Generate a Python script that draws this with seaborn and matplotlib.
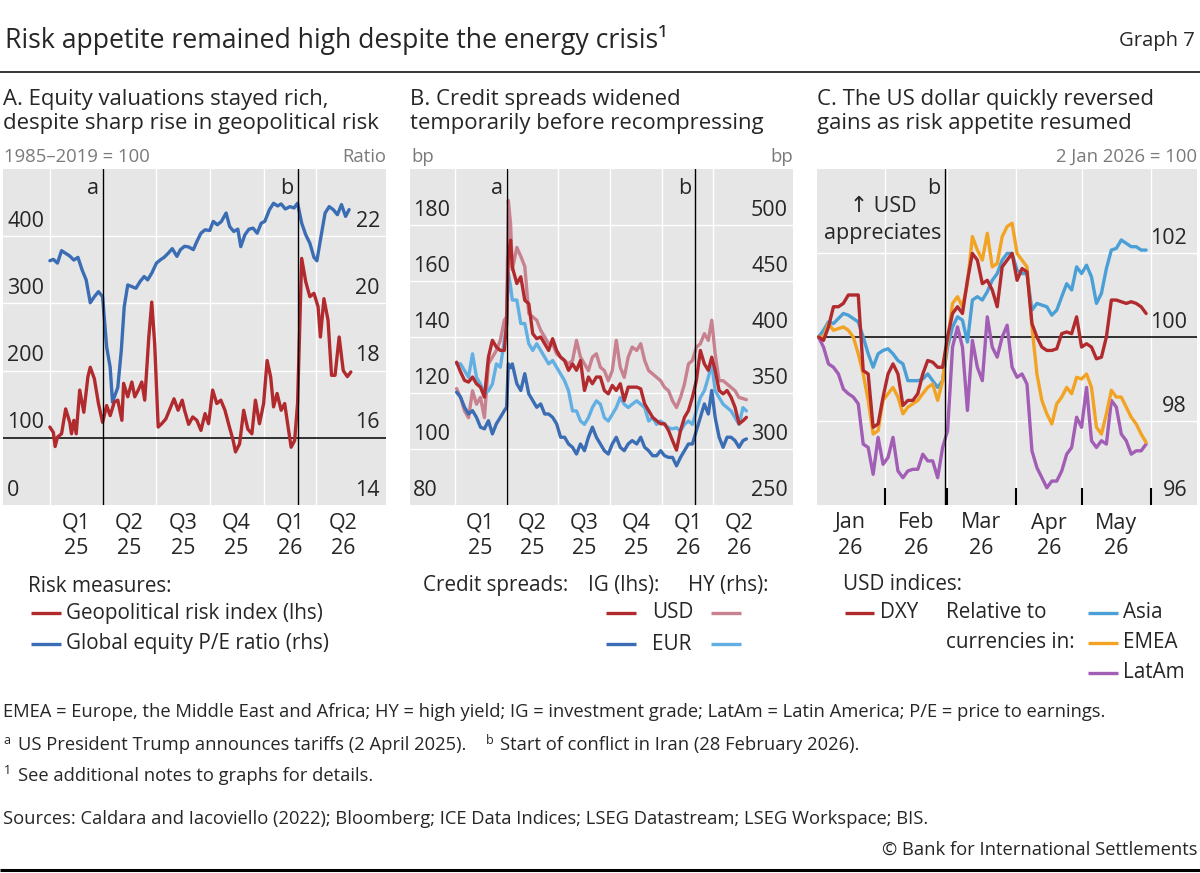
"""
Risk appetite remained high despite the energy crisis (BIS Graph 7) - three panel line chart.
"""
import numpy as np
import pandas as pd
import matplotlib
matplotlib.use("Agg")
import matplotlib.pyplot as plt
import matplotlib.transforms as mtransforms
from matplotlib.lines import Line2D
import seaborn as sns

# ---------------------------------------------------------------
# Panel A: days since 1 Jan 2025
gpr_day = [0, 6, 9, 13, 20, 27, 34, 37, 41, 45,
           51, 58, 65, 69, 76, 83, 90, 97, 103, 110,
           116, 123, 126, 133, 140, 145, 151, 157, 162, 169,
           174, 179, 185, 191, 198, 205, 212, 219, 226, 230,
           237, 244, 251, 258, 265, 271, 278, 285, 292, 299,
           306, 313, 317, 324, 331, 338, 345, 351, 358, 365,
           371, 377, 382, 388, 395, 401, 406, 412, 418, 423,
           430, 437, 444, 451, 458, 462, 468, 475, 481, 487,
           494, 501, 508, 514]
gpr = [116, 108, 87, 101, 106, 143, 123, 106, 126, 106,
       171, 138, 191, 205, 188, 151, 123, 148, 133, 153,
       156, 126, 181, 161, 183, 161, 171, 183, 156, 250,
       302, 240, 116, 121, 128, 143, 158, 141, 156, 141,
       120, 131, 126, 111, 136, 121, 171, 151, 156, 141,
       118, 96, 79, 91, 141, 113, 106, 156, 121, 151,
       215, 191, 146, 166, 141, 151, 121, 86, 96, 151,
       367, 332, 310, 315, 295, 250, 307, 275, 193, 193,
       250, 200, 191, 198]

pe_day = [0, 6, 13, 20, 27, 34, 41, 48, 55, 62,
          69, 76, 83, 90, 97, 103, 107, 116, 122, 127,
          133, 140, 147, 154, 161, 167, 174, 182, 189, 195,
          202, 209, 217, 223, 230, 237, 245, 251, 258, 265,
          273, 279, 286, 293, 301, 307, 314, 321, 326, 333,
          340, 347, 354, 361, 367, 375, 382, 389, 395, 402,
          410, 417, 423, 430, 437, 444, 451, 456, 463, 470,
          477, 484, 491, 498, 505, 511]
pe = [21.27, 21.31, 21.2, 21.57, 21.49, 21.41, 21.29, 21.37, 21.0, 20.7,
      20.02, 20.2, 20.35, 20.2, 18.7, 18.1, 17.06, 17.5, 18.6, 19.9,
      20.55, 20.5, 20.45, 20.65, 20.8, 20.7, 20.9, 21.2, 21.3, 21.37,
      21.49, 21.63, 21.4, 21.6, 21.7, 21.68, 21.6, 21.84, 22.09, 22.19,
      22.17, 22.44, 22.34, 22.44, 22.69, 22.29, 22.14, 22.21, 21.69, 22.04,
      22.21, 22.24, 22.09, 22.39, 22.44, 22.79, 22.98, 22.9, 22.96, 22.81,
      22.88, 22.84, 22.98, 22.39, 22.04, 21.79, 21.37, 21.27, 21.99, 22.69,
      22.88, 22.79, 22.64, 22.94, 22.59, 22.79]

# Panel B: days since 1 Jan 2025
cs_day = [3, 10, 17, 24, 31, 38, 45, 52, 59, 66, 73, 80, 87, 91, 94, 98, 101,
          109, 116, 123, 130, 137, 144, 151, 158, 165, 172, 179, 186, 193, 200,
          207, 214, 221, 228, 235, 242, 249, 256, 263, 270,
          277, 284, 291, 298, 305, 312, 320, 327, 334, 341, 348, 355, 362, 369,
          376, 383, 390, 397, 404, 411, 418, 425, 432, 439, 446, 452, 458, 465,
          472, 479, 486, 493, 500, 507, 513]
ig_usd = [131.0, 127.5, 124.5, 123.9, 125.7, 123.3, 122.1, 118.5, 132.8, 138.8,
          136.4, 135.2, 135.2, 144.8, 168.7, 174.6, 165.0, 159.1, 161.5, 153.1,
          151.9, 141.2, 139.4, 140.0, 137.6, 135.2, 139.4, 135.2, 132.8, 131.6,
          128.1, 130.4, 128.1, 131.6, 120.9, 125.7, 123.3, 125.7, 125.7, 120.9,
          119.7, 122.7, 120.9, 123.3, 117.3, 122.1, 122.1, 122.1, 121.5, 116.1,
          113.7, 111.3, 110.1, 109.0, 109.0, 106.6, 103.0, 99.6, 106.6, 111.3,
          113.7, 118.5, 124.5, 135.2, 130.4, 128.1, 132.8, 128.1, 120.9, 119.7,
          120.9, 118.5, 114.9, 109.0, 110.1, 111.3]
ig_eur = [120.3, 118.5, 114.9, 112.5, 113.7, 111.3, 107.8, 107.2, 110.1, 105.4,
          109.0, 111.3, 113.7, 114.9, 130.4, 129.0, 130.4, 123.3, 120.9, 126.9,
          119.7, 117.3, 114.9, 116.1, 112.5, 112.5, 111.3, 109.0, 104.2, 104.2,
          101.8, 100.6, 98.2, 101.8, 99.4, 104.2, 107.8, 104.2, 101.8, 99.4,
          98.2, 101.8, 104.2, 100.6, 99.4, 101.8, 103.0, 101.8, 104.2, 100.6,
          99.4, 97.6, 97.6, 99.4, 97.6, 97.0, 97.0, 94.0, 97.0, 99.4,
          101.8, 101.8, 106.6, 111.3, 116.1, 112.5, 120.9, 111.3, 104.2, 100.6,
          104.2, 104.2, 103.0, 100.6, 103.0, 103.6]
hy_usd = [354, 346, 334, 328, 352, 340, 346, 328, 376, 382,
          388, 397, 415, 418, 522, 501, 460, 480, 472, 463,
          421, 418, 415, 406, 400, 394, 394, 385, 382, 379,
          376, 379, 397, 382, 376, 370, 382, 385, 373, 370,
          361, 370, 397, 373, 364, 382, 391, 388, 394, 379,
          370, 367, 364, 361, 355, 352, 343, 337, 346, 358,
          376, 379, 391, 394, 403, 397, 415, 385, 361, 361,
          358, 355, 352, 346, 345, 344]
hy_eur = [376, 376, 370, 364, 385, 364, 358, 349, 352, 358,
          376, 373, 397, 410, 457, 445, 433, 433, 412, 412,
          394, 388, 394, 388, 382, 376, 379, 373, 367, 361,
          352, 334, 334, 325, 322, 328, 337, 343, 340, 328,
          325, 331, 337, 346, 340, 337, 340, 343, 340, 337,
          325, 328, 322, 325, 322, 319, 318, 319, 316, 322,
          325, 322, 334, 346, 352, 364, 376, 352, 346, 340,
          337, 334, 328, 322, 337, 334]

# Panel C: 2 Jan 2026 = 100, evenly spaced observations 2 Jan - 30 May 2026
dxy = [100.0, 99.92, 100.24, 100.72, 100.72, 100.80, 101.0, 101.0, 101.0, 99.2,
       99.12, 97.85, 97.93, 98.57, 99.12, 99.36, 99.12, 98.37, 98.49, 98.49,
       98.65, 99.12, 99.44, 99.40, 99.28, 99.28, 100.0, 100.56, 100.72, 100.56,
       101.35, 101.99, 101.83, 101.27, 101.35, 101.12, 100.72, 101.67, 101.83, 101.99,
       101.35, 101.63, 101.55, 100.32, 100.0, 99.76, 99.68, 99.68, 99.72, 100.08,
       100.12, 100.08, 100.48, 99.76, 99.84, 99.76, 99.48, 99.52, 100.0, 100.88,
       100.88, 100.84, 100.80, 100.84, 100.80, 100.72, 100.56]
asia = [100.0, 100.16, 100.36, 100.32, 100.44, 100.56, 100.52, 100.44, 100.36, 100.0,
        99.6, 99.28, 99.6, 99.68, 99.72, 99.6, 99.44, 99.36, 98.96, 98.96,
        98.96, 99.0, 99.12, 98.96, 98.8, 98.96, 99.76, 100.24, 100.48, 100.4,
        99.88, 100.88, 100.96, 100.88, 101.08, 101.35, 101.51, 101.83, 101.99, 101.99,
        101.59, 101.51, 101.51, 100.64, 100.8, 100.76, 100.72, 100.52, 100.64, 100.96,
        101.27, 101.12, 101.67, 101.51, 101.71, 101.43, 100.8, 101.04, 101.63, 102.07,
        102.11, 102.31, 102.23, 102.15, 102.15, 102.07, 102.07]
emea = [100.0, 100.0, 100.32, 100.16, 100.2, 100.24, 100.16, 100.0, 99.6, 99.12,
        98.49, 97.69, 97.77, 98.49, 98.65, 98.8, 98.57, 98.17, 98.33, 98.41,
        98.49, 98.65, 98.8, 98.88, 98.49, 98.96, 99.92, 100.8, 100.96, 100.72,
        101.27, 102.39, 102.07, 101.83, 102.47, 101.67, 101.75, 102.39, 102.63, 102.71,
        101.99, 101.83, 101.67, 100.24, 99.12, 98.49, 98.17, 97.93, 98.41, 98.57,
        98.8, 98.65, 99.04, 99.0, 99.12, 98.8, 97.85, 97.69, 98.17, 98.73,
        98.57, 98.57, 98.33, 98.09, 97.93, 97.69, 97.49]
latam = [100.0, 99.76, 99.36, 99.28, 99.12, 98.76, 98.65, 98.57, 98.41, 97.45,
         97.37, 96.73, 97.61, 96.97, 97.13, 97.61, 96.81, 96.65, 96.81, 96.85,
         96.85, 97.21, 97.05, 97.05, 96.65, 97.37, 97.77, 99.76, 100.24, 99.76,
         98.25, 99.92, 99.28, 98.96, 100.48, 99.76, 99.52, 100.0, 100.28, 99.28,
         99.04, 99.12, 98.88, 97.29, 96.89, 96.65, 96.41, 96.57, 96.57, 96.81,
         97.21, 97.37, 98.09, 97.85, 98.8, 97.53, 97.37, 97.53, 97.45, 98.49,
         98.33, 97.69, 97.53, 97.21, 97.29, 97.29, 97.45]

quarter_labels = [("Q1", "25"), ("Q2", "25"), ("Q3", "25"), ("Q4", "25"), ("Q1", "26"), ("Q2", "26")]
month_labels = [("Jan", "26"), ("Feb", "26"), ("Mar", "26"), ("Apr", "26"), ("May", "26")]

# ---------------------------------------------------------------
RED = "#B12A2E"
BLUE = "#3B6DB4"
PINK = "#C8818F"
LBLUE = "#62B0E3"
ASIA = "#4A9FD6"
EMEA = "#F2A323"
LATAM = "#A25DB5"
BG = "#E6E6E6"
GREY = "#7A7A7A"
LW = 2.4
TICK_FS = 15.5
LEG_FS = 14.9
FN = 13.2
UNIT_FS = 13.3
PT_FS = 15.9

sns.set_theme(style="white")
plt.rcParams["font.family"] = ["Open Sans", "DejaVu Sans"]

W, H = 1200, 873
fig = plt.figure(figsize=(W / 100, H / 100), dpi=100)


def box(x0, y0, x1, y1):
    return [x0 / W, 1 - y1 / H, (x1 - x0) / W, (y1 - y0) / H]


def ftext(x, y, s, **kw):
    kw.setdefault("va", "center")
    kw.setdefault("fontsize", LEG_FS)
    fig.text(x / W, 1 - y / H, s, **kw)


def fline(x0, x1, y, color, lw=LW):
    fig.add_artist(Line2D([x0 / W, x1 / W], [1 - y / H, 1 - y / H],
                          transform=fig.transFigure, color=color, lw=lw,
                          solid_capstyle="butt"))


def side_labels(ax, vals, side, inset=5):
    base = mtransforms.blended_transform_factory(ax.transAxes, ax.transData)
    if side == "left":
        tr = mtransforms.offset_copy(base, fig=fig, x=inset, y=15, units="dots")
        x, ha = 0, "left"
    else:
        tr = mtransforms.offset_copy(base, fig=fig, x=-inset, y=15, units="dots")
        x, ha = 1, "right"
    for v in vals:
        ax.text(x, v, f"{v:g}", transform=tr, ha=ha, va="center", fontsize=TICK_FS)


def bottom_labels(ax, xs, labels):
    base = mtransforms.blended_transform_factory(ax.transData, ax.transAxes)
    tr1 = mtransforms.offset_copy(base, fig=fig, x=0, y=-18, units="dots")
    tr2 = mtransforms.offset_copy(base, fig=fig, x=0, y=-44, units="dots")
    for x, (top, bot) in zip(xs, labels):
        ax.text(x, 0, top, transform=tr1, ha="center", va="center", fontsize=TICK_FS)
        ax.text(x, 0, bot, transform=tr2, ha="center", va="center", fontsize=TICK_FS)


def event_line(ax, x, letter):
    ax.axvline(x, color="black", lw=1.0, zorder=4)
    tr = mtransforms.offset_copy(
        mtransforms.blended_transform_factory(ax.transData, ax.transAxes),
        fig=fig, x=-4, y=-20, units="dots")
    ax.text(x, 1, letter, transform=tr, ha="right", va="center", fontsize=TICK_FS)


def style_axes(ax):
    for sp in ax.spines.values():
        sp.set_visible(False)
    ax.set(xlabel="", ylabel="")
    ax.tick_params(axis="y", which="both", length=0, labelleft=False, labelright=False)


# Calendar helpers (days since 1 Jan 2025)
base25 = pd.Timestamp("2025-01-01")
months = pd.date_range("2025-01-01", "2026-07-01", freq="MS")
month_days = np.array([(m - base25).days for m in months])
q_mask = np.array([m.month in (1, 4, 7, 10) for m in months])
q_edges = month_days[q_mask]                 # 2025Q1 ... 2026Q3 starts
q_days = q_edges[:-1]
q_centres = (q_edges[:-1] + q_edges[1:]) / 2
minor_days = month_days[(~q_mask) & (month_days <= 516)]
day_a = (pd.Timestamp("2025-04-02") - base25).days
day_b = (pd.Timestamp("2026-02-28") - base25).days


def quarter_axis(ax):
    ax.set_xticks(q_days)
    ax.set_xticks(minor_days, minor=True)
    ax.tick_params(axis="x", which="major", direction="in", length=12.5, width=1.5,
                   color="black", labelbottom=False, bottom=True)
    ax.tick_params(axis="x", which="minor", direction="in", length=5.5, width=1.5,
                   color="black", labelbottom=False, bottom=True)
    bottom_labels(ax, q_centres, quarter_labels)


# ---------------------------------------------------------------
# Panel A
axA2 = fig.add_axes(box(3, 169, 386, 505))
axA = axA2.twinx()
axA2.set_facecolor(BG)
axA.set_zorder(axA2.get_zorder() + 1)
axA.patch.set_visible(False)

sns.lineplot(x=pe_day, y=pe, ax=axA2, color=BLUE, linewidth=LW)
sns.lineplot(x=gpr_day, y=gpr, ax=axA, color=RED, linewidth=LW)
for ax in (axA, axA2):
    ax.set_xlim(-80, 574)
    style_axes(ax)
axA.set_ylim(0, 500)
axA2.set_ylim(14, 24)
for v in (18, 20, 22):
    axA2.axhline(v, color="white", lw=1.0, zorder=0.5)
for d in q_days:
    axA2.axvline(d, color="white", lw=1.0, zorder=0.5)
axA.axhline(100, color="black", lw=1.1, zorder=1)
axA2.tick_params(axis="x", which="both", length=0, labelbottom=False)
quarter_axis(axA)
event_line(axA, day_a, "a")
event_line(axA, day_b, "b")
side_labels(axA, [0, 100, 200, 300, 400], "left", inset=4)
side_labels(axA2, [14, 16, 18, 20, 22], "right", inset=6)

# Panel B
axB2 = fig.add_axes(box(410, 169, 793, 505))
axB = axB2.twinx()
axB2.set_facecolor(BG)
axB.set_zorder(axB2.get_zorder() + 1)
axB.patch.set_visible(False)

sns.lineplot(x=cs_day, y=hy_usd, ax=axB2, color=PINK, linewidth=LW)
sns.lineplot(x=cs_day, y=hy_eur, ax=axB2, color=LBLUE, linewidth=LW)
sns.lineplot(x=cs_day, y=ig_usd, ax=axB, color=RED, linewidth=LW)
sns.lineplot(x=cs_day, y=ig_eur, ax=axB, color=BLUE, linewidth=LW)
for ax in (axB, axB2):
    ax.set_xlim(-79, 595)
    style_axes(ax)
axB.set_ylim(80, 200)
axB2.set_ylim(250, 550)
for v in (300, 350, 400, 450, 500):
    axB2.axhline(v, color="white", lw=1.0, zorder=0.5)
for d in q_days:
    axB2.axvline(d, color="white", lw=1.0, zorder=0.5)
axB2.tick_params(axis="x", which="both", length=0, labelbottom=False)
quarter_axis(axB)
event_line(axB, day_a, "a")
event_line(axB, day_b, "b")
side_labels(axB, [80, 100, 120, 140, 160, 180], "left", inset=3)
side_labels(axB2, [250, 300, 350, 400, 450, 500], "right", inset=5)

# Panel C
base26 = pd.Timestamp("2026-01-01")
usd_dates = pd.date_range("2026-01-02", "2026-05-30", periods=len(dxy))
usd_day = (usd_dates - base26) / pd.Timedelta(days=1)
usd = pd.DataFrame({"day": usd_day, "DXY": dxy, "Asia": asia, "EMEA": emea, "LatAm": latam})

axC = fig.add_axes(box(817, 169, 1197, 505))
axC.set_facecolor(BG)
for col, colr in (("LatAm", LATAM), ("Asia", ASIA), ("EMEA", EMEA), ("DXY", RED)):
    sns.lineplot(data=usd, x="day", y=col, ax=axC, color=colr, linewidth=LW)
style_axes(axC)
axC.set_xlim(0.3, 172)
axC.set_ylim(96, 104)
mstarts = pd.date_range("2026-01-01", "2026-06-01", freq="MS")
mdays = np.array([(m - base26).days for m in mstarts])
for v in (98, 102):
    axC.axhline(v, color="white", lw=1.0, zorder=0.5)
for d in mdays[1:]:
    axC.axvline(d, color="white", lw=1.0, zorder=0.5)
axC.axhline(100, color="black", lw=1.1, zorder=1)
axC.set_xticks(mdays[1:])
axC.tick_params(axis="x", which="major", direction="in", length=12.5, width=1.5,
                color="black", labelbottom=False, bottom=True)
bottom_labels(axC, (mdays[:-1] + mdays[1:]) / 2, month_labels)
event_line(axC, (pd.Timestamp("2026-02-28") - base26).days, "b")
side_labels(axC, [96, 98, 100, 102], "right", inset=10)
ftext(883, 207, "\u2191 USD", fontsize=TICK_FS, ha="center")
ftext(883, 234, "appreciates", fontsize=TICK_FS, ha="center")

# ---------------------------------------------------------------
# Headline, panel titles and units
ftext(5, 40, "Risk appetite remained high despite the energy crisis\u00b9", fontsize=19.2)
ftext(1195, 41, "Graph 7", fontsize=14.6, ha="right")
fline(0, 1200, 72, "black", lw=1.1)

ftext(3, 100, "A. Equity valuations stayed rich,", fontsize=PT_FS)
ftext(3, 124, "despite sharp rise in geopolitical risk", fontsize=PT_FS)
ftext(410, 100, "B. Credit spreads widened", fontsize=PT_FS)
ftext(410, 124, "temporarily before recompressing", fontsize=PT_FS)
ftext(817, 100, "C. The US dollar quickly reversed", fontsize=PT_FS)
ftext(817, 124, "gains as risk appetite resumed", fontsize=PT_FS)

ftext(4, 157, "1985\u20132019 = 100", fontsize=UNIT_FS, color=GREY)
ftext(386, 157, "Ratio", fontsize=UNIT_FS, color=GREY, ha="right")
ftext(411, 157, "bp", fontsize=UNIT_FS, color=GREY)
ftext(793, 157, "bp", fontsize=UNIT_FS, color=GREY, ha="right")
ftext(1197, 157, "2 Jan 2026 = 100", fontsize=UNIT_FS, color=GREY, ha="right")

# Legends
ftext(28, 586, "Risk measures:")
fline(31, 61, 613, RED)
ftext(66, 613, "Geopolitical risk index (lhs)")
fline(31, 61, 644, BLUE)
ftext(66, 644, "Global equity P/E ratio (rhs)")

ftext(423, 586, "Credit spreads:")
ftext(588, 586, "IG (lhs):")
ftext(688, 586, "HY (rhs):")
fline(606, 636, 613, RED)
ftext(652, 613, "USD")
fline(711, 741, 613, PINK)
fline(606, 636, 644, BLUE)
ftext(652, 644, "EUR")
fline(711, 741, 644, LBLUE)

ftext(843, 585, "USD indices:")
fline(845, 874, 613, RED)
ftext(880, 613, "DXY")
ftext(946, 613, "Relative to")
ftext(946, 642, "currencies in:")
fline(1088, 1118, 613, ASIA)
ftext(1123, 613, "Asia")
fline(1088, 1118, 643, EMEA)
ftext(1123, 643, "EMEA")
fline(1088, 1118, 673, LATAM)
ftext(1123, 673, "LatAm")

# Footnotes
ftext(3, 712, "EMEA = Europe, the Middle East and Africa; HY = high yield; IG = investment grade; "
      "LatAm = Latin America; P/E = price to earnings.", fontsize=FN)
ftext(3, 740, "a", fontsize=9)
ftext(18, 745, "US President Trump announces tariffs (2 April 2025).", fontsize=FN)
ftext(486, 740, "b", fontsize=9)
ftext(500, 745, "Start of conflict in Iran (28 February 2026).", fontsize=FN)
ftext(4, 771, "1", fontsize=9)
ftext(18, 776, "See additional notes to graphs for details.", fontsize=FN)
ftext(3, 819, "Sources: Caldara and Iacoviello (2022); Bloomberg; ICE Data Indices; LSEG Datastream; "
      "LSEG Workspace; BIS.", fontsize=FN)
ftext(1197, 850, "\u00a9 Bank for International Settlements", fontsize=FN, ha="right")
fline(0, 1200, 869.5, "black", lw=2.2)

fig.savefig("out.png", dpi=100)
